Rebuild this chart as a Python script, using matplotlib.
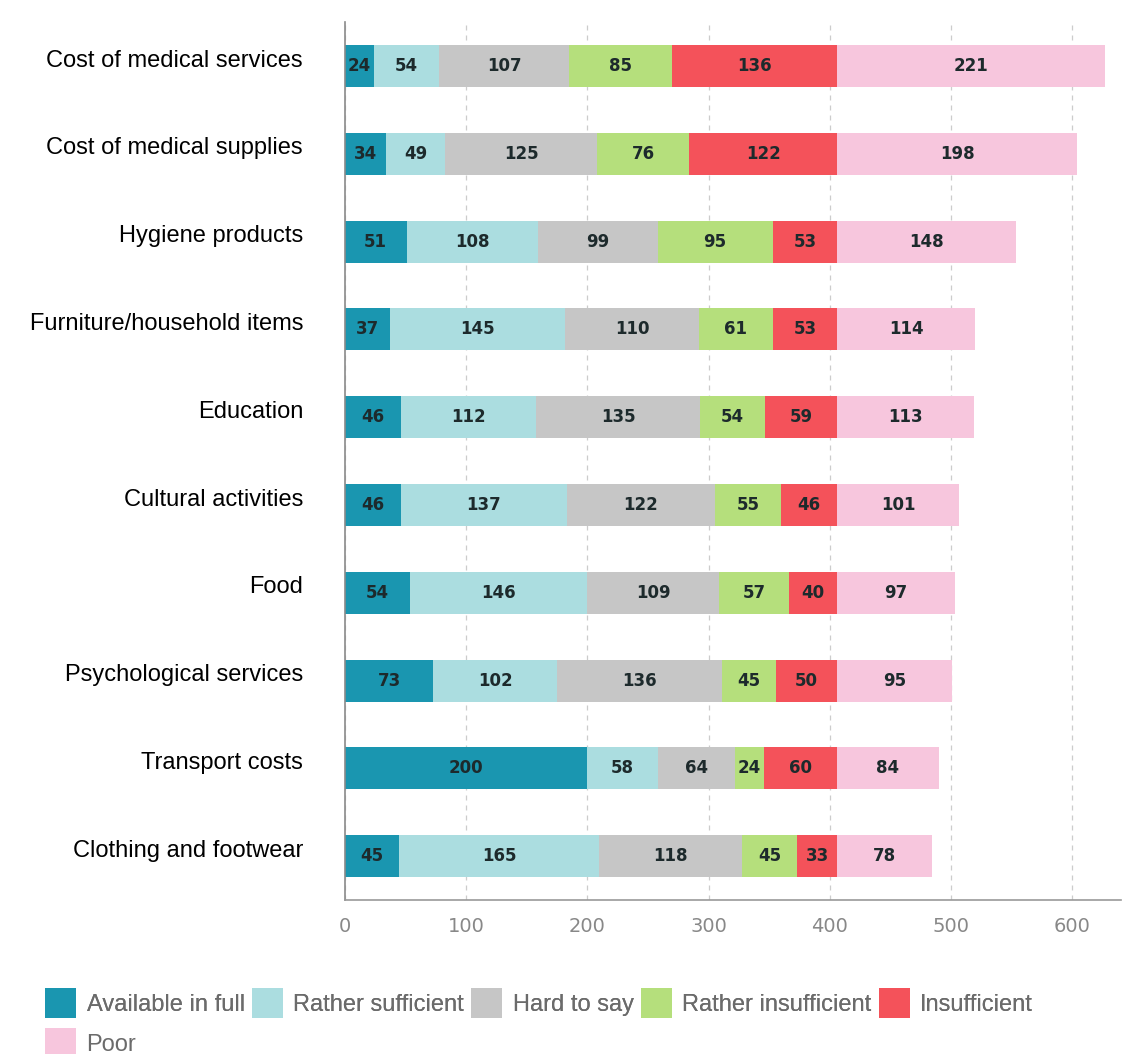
import numpy as np
import matplotlib
matplotlib.use("Agg")
import matplotlib.pyplot as plt
import matplotlib.transforms as mtransforms
from matplotlib.patches import Patch

# survey categories, top to bottom
categories = [
    "Cost of medical services",
    "Cost of medical supplies",
    "Hygiene products",
    "Furniture/household items",
    "Education",
    "Cultural activities",
    "Food",
    "Psychological services",
    "Transport costs",
    "Clothing and footwear",
]

available_in_full = [24, 34, 51, 37, 46, 46, 54, 73, 200, 45]
rather_sufficient = [54, 49, 108, 145, 112, 137, 146, 102, 58, 165]
hard_to_say = [107, 125, 99, 110, 135, 122, 109, 136, 64, 118]
rather_insufficient = [85, 76, 95, 61, 54, 55, 57, 45, 24, 45]
insufficient = [136, 122, 53, 53, 59, 46, 40, 50, 60, 33]
poor = [221, 198, 148, 114, 113, 101, 97, 95, 84, 78]

series_names = ["Available in full", "Rather sufficient", "Hard to say",
                "Rather insufficient", "Insufficient", "Poor"]
colors = ["#1a96b0", "#abdde0", "#c6c6c6", "#b5df7c", "#f4525a", "#f7c6dd"]

x_ticks = [0, 100, 200, 300, 400, 500, 600]

series = [available_in_full, rather_sufficient, hard_to_say,
          rather_insufficient, insufficient, poor]

fig = plt.figure(figsize=(11.23, 10.54), dpi=100)
ax = fig.add_axes([0.307, 0.146, 0.691, 0.833])

y = np.arange(len(categories))
left = np.zeros(len(categories))
for name, vals, col in zip(series_names, series, colors):
    vals = np.array(vals)
    bars = ax.barh(y, vals, left=left, height=0.48, color=col, label=name, zorder=2)
    ax.bar_label(bars, labels=[str(v) for v in vals], label_type="center",
                 fontsize=12, fontweight="bold", color="#1d2a2c",
                 family="DejaVu Sans")
    left += vals

ax.set_ylim(len(categories) - 0.5, -0.5)
ax.set_xlim(0, 640)
ax.set_xticks(x_ticks)
ax.set_xticklabels([str(t) for t in x_ticks], fontsize=14, color="#888888",
                   family="DejaVu Sans")
ax.set_yticks(y)
ax.set_yticklabels(categories, fontsize=17, color="black", family="Liberation Sans")
ax.tick_params(axis="y", length=0, pad=30)
ax.tick_params(axis="x", length=0, pad=12)

# category names sit a little above the bar centres
shift = mtransforms.ScaledTranslation(0, 0.08, fig.dpi_scale_trans)
for lbl in ax.get_yticklabels():
    lbl.set_transform(lbl.get_transform() + shift)

ax.grid(axis="x", linestyle=(0, (4, 4)), color="#cccccc", linewidth=0.9, zorder=0)
ax.set_axisbelow(True)
for s in ["top", "right"]:
    ax.spines[s].set_visible(False)
ax.spines["left"].set_color("#8a8a8a")
ax.spines["bottom"].set_color("#999999")
ax.spines["left"].set_linewidth(1.2)
ax.spines["bottom"].set_linewidth(1.2)

# legend in two rows under the plot
handles = [Patch(facecolor=c, edgecolor="none") for c in colors]
leg_kw = dict(frameon=False, borderpad=0, borderaxespad=0, handlelength=1.31,
              handleheight=1.58, handletextpad=0.45, columnspacing=0.3,
              prop={"family": "Liberation Sans", "size": 17}, labelcolor="#6b6b6b",
              loc="upper left")
leg1 = fig.legend(handles[:5], series_names[:5], ncol=5,
                  bbox_to_anchor=(45 / 1123, 1 - 988 / 1054), **leg_kw)
fig.add_artist(leg1)
fig.legend(handles[5:], series_names[5:], ncol=1,
           bbox_to_anchor=(45 / 1123, 1 - 1028 / 1054), **leg_kw)

fig.savefig("out.png", dpi=100, facecolor="white")
